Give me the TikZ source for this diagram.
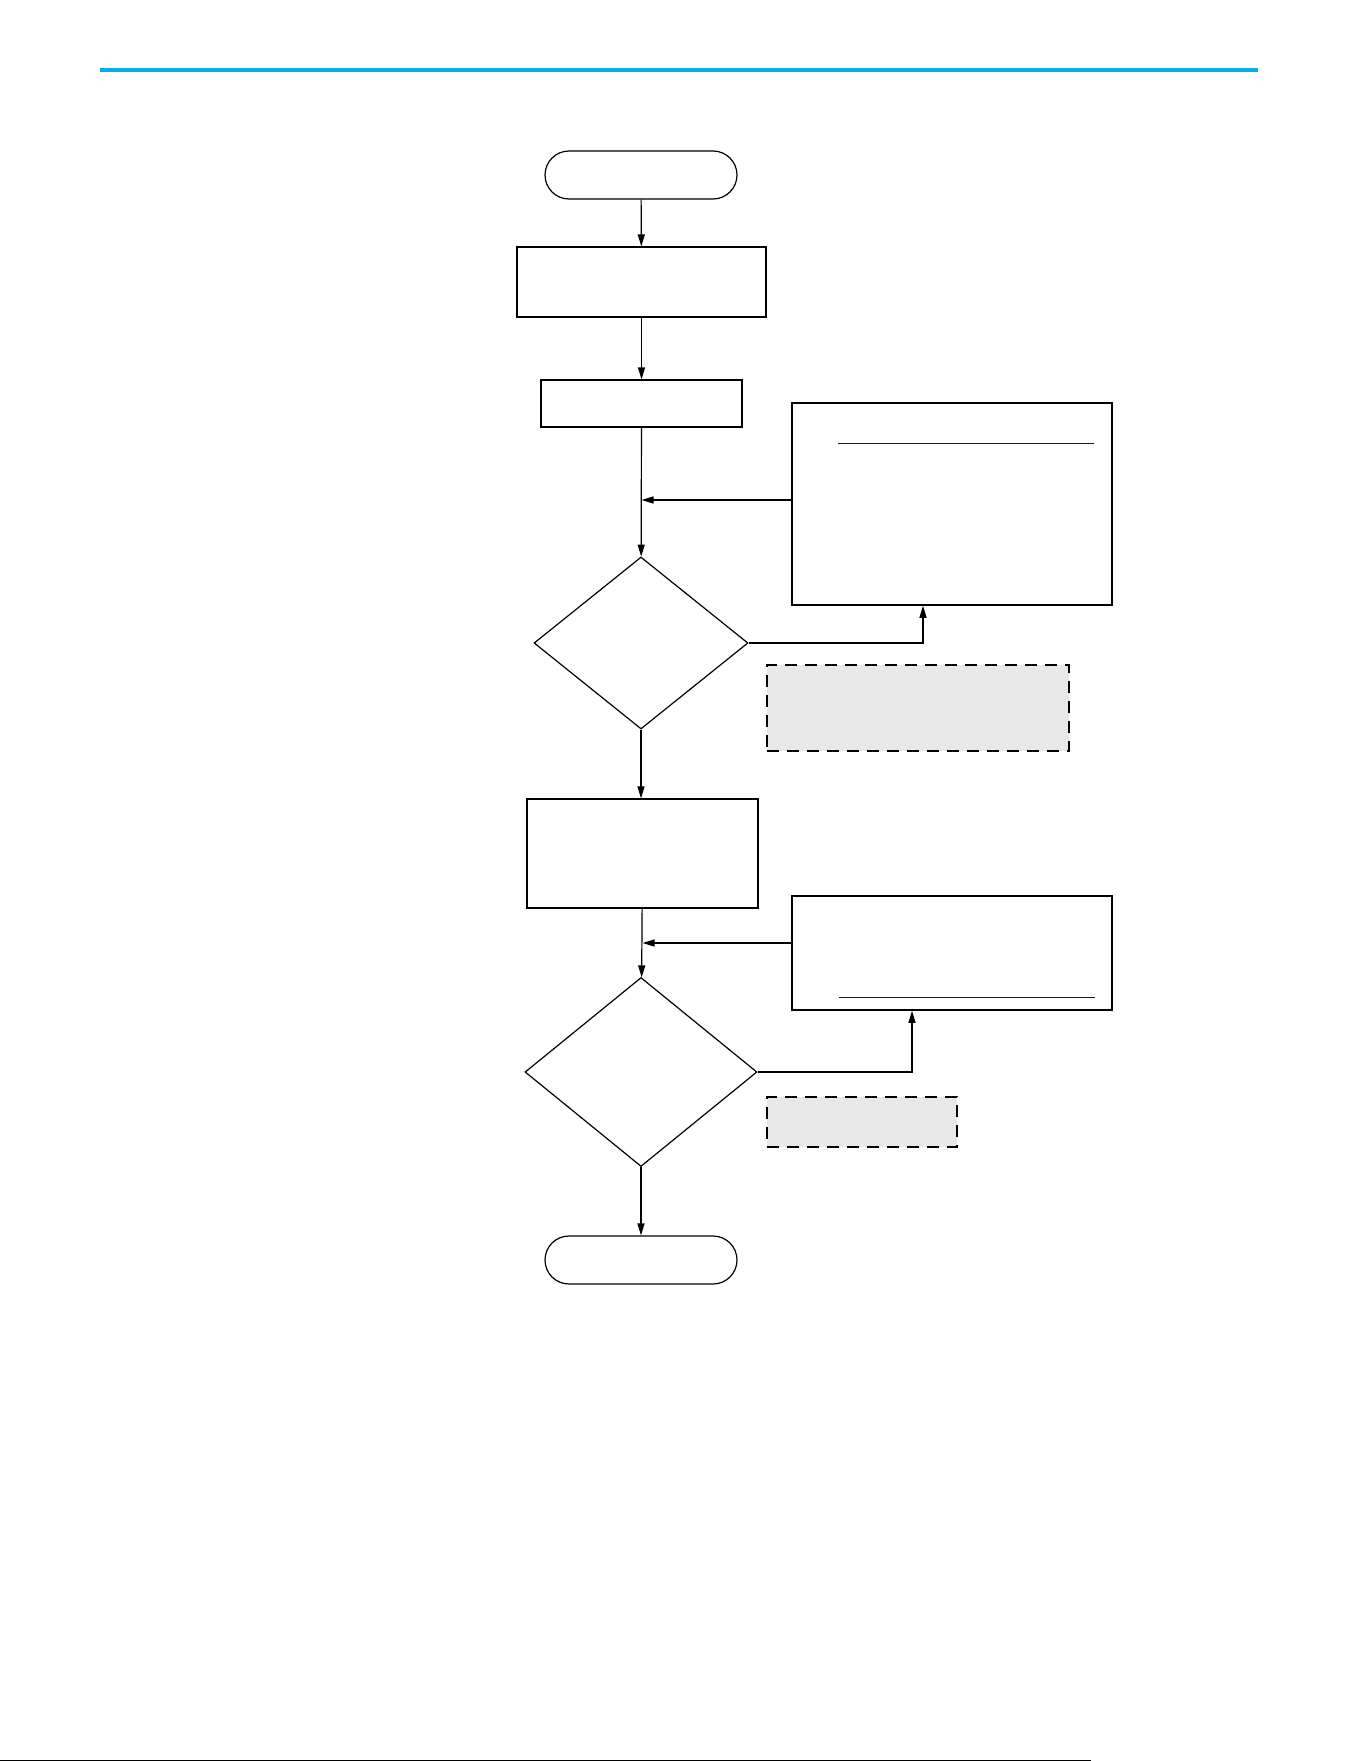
\documentclass[tikz,border=0pt]{standalone}
\usepackage{tikz}
\usetikzlibrary{shapes.geometric, positioning, arrows.meta}
\definecolor{rulecyan}{HTML}{00AEEF}
\definecolor{linkblue}{HTML}{0000CC}
\definecolor{hintgray}{HTML}{E8E8E8}

\begin{document}
\begin{tikzpicture}[x=0.5pt, y=-0.5pt, >={Stealth[length=6pt, width=3.5pt, inset=0pt]},
    box/.style={draw, rectangle, line width=0.6pt, inner sep=0pt},
    note/.style={draw, rectangle, line width=0.75pt, inner sep=0pt},
    hint/.style={draw, rectangle, dash pattern=on 6pt off 4pt, line width=0.8pt, fill=hintgray, inner sep=0pt},
    terminal/.style={draw, rectangle, rounded corners=12pt, line width=0.6pt, minimum width=96pt, minimum height=24pt, inner sep=0pt},
    decision/.style={draw, diamond, line width=0.6pt, inner sep=0pt, shape aspect=1}]
        \useasboundingbox (0,0) rectangle (1361,1761);
        \draw[rulecyan, line width=2pt] (100,70) -- (1258,70);
        \draw[line width=0.5pt] (0,1760) -- (1091,1760);

        \node[terminal] (start)      at (641,175) {};
        \node[box]      (prep)       at (641.5,282) [minimum width=124.5pt, minimum height=35pt] {};
        \node[box]      (config)     at (641.5,403.5) [minimum width=100.5pt, minimum height=23.5pt] {};
        \node[note]     (note_top)   at (952,504) [minimum width=160pt, minimum height=101pt] {};
        \node[decision] (check_one)  at (641,643) [minimum width=107pt, minimum height=86pt] {};
        \node[hint]     (hint_one)   at (918,708) [minimum width=151pt, minimum height=43pt] {};
        \node[box]      (apply)      at (642.5,853.5) [minimum width=115.5pt, minimum height=54.5pt] {};
        \node[note]     (note_bottom) at (952,953) [minimum width=160pt, minimum height=57pt] {};
        \node[decision] (check_two)  at (641,1072) [minimum width=116pt, minimum height=94.5pt] {};
        \node[hint]     (hint_two)   at (862,1122) [minimum width=95pt, minimum height=25pt] {};
        \node[terminal] (finish)     at (641,1260) {};

        % link underlines in the notes
        \draw[linkblue, line width=0.5pt] (838,443) -- (1094,443);
        \draw[linkblue, line width=0.5pt] (839,997) -- (1095,997);

        \path[->, line width=0.6pt]
              (start)       edge (prep)
              (prep)        edge (config)
              (config)      edge (check_one)
              (check_one)   edge (check_one |- apply.north)
              (apply)       edge (check_two)
              (check_two)   edge (finish);
        \draw[->, line width=0.6pt] ([yshift=2pt]note_top.west) -- ([yshift=2pt]note_top.west -| config.south);
        \draw[->, line width=0.6pt] ([yshift=5pt]note_bottom.west) -- ([yshift=5pt]note_bottom.west -| apply.south);
        \draw[->, line width=0.6pt] (check_one.east) -| ([xshift=-14.5pt]note_top.south);
        \draw[->, line width=0.6pt] (check_two.east) -| ([xshift=-20pt]note_bottom.south);
    \end{tikzpicture}
\end{document}
